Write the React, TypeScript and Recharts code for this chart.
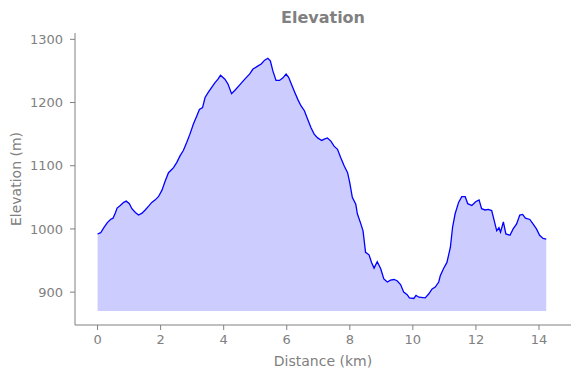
import { ComposedChart, Area, Line, XAxis, YAxis } from 'recharts';

// distance along the track (km) and elevation (m)
const distanceKm = [
  0.0, 0.1, 0.2, 0.31, 0.41, 0.49, 0.57, 0.62, 0.72, 0.83, 0.91, 1.01, 1.09, 1.2, 1.3, 1.41, 1.51, 1.62, 1.72, 1.83,
  1.93, 2.04, 2.14, 2.25, 2.41, 2.51, 2.62, 2.72, 2.83, 2.93, 3.04, 3.15, 3.23, 3.33, 3.41, 3.51, 3.62, 3.72, 3.82, 3.9,
  4.04, 4.14, 4.25, 4.35, 4.51, 4.67, 4.82, 4.93, 5.09, 5.19, 5.3, 5.4, 5.48, 5.56, 5.66, 5.77, 5.88, 5.98, 6.06, 6.14,
  6.24, 6.35, 6.45, 6.56, 6.66, 6.77, 6.87, 6.98, 7.11, 7.19, 7.29, 7.4, 7.5, 7.61, 7.71, 7.82, 7.93, 8.0, 8.08, 8.19,
  8.24, 8.35, 8.42, 8.5, 8.61, 8.69, 8.77, 8.87, 8.98, 9.08, 9.19, 9.29, 9.4, 9.5, 9.61, 9.71, 9.82, 9.89, 10.03, 10.1,
  10.19, 10.39, 10.5, 10.61, 10.71, 10.82, 10.87, 10.97, 11.08, 11.19, 11.26, 11.34, 11.45, 11.55, 11.66, 11.74, 11.87,
  11.99, 12.1, 12.18, 12.29, 12.39, 12.5, 12.58, 12.66, 12.73, 12.78, 12.87, 12.95, 13.08, 13.18, 13.29, 13.39, 13.48,
  13.57, 13.71, 13.81, 13.92, 14.02, 14.13, 14.23,
];

const elevationM = [
  992, 994, 1002, 1010, 1015, 1017, 1026, 1033, 1037, 1042, 1044, 1040, 1032, 1026, 1022, 1025, 1030, 1036, 1042, 1046,
  1051, 1061, 1075, 1089, 1097, 1105, 1116, 1124, 1137, 1150, 1166, 1179, 1189, 1192, 1208, 1216, 1224, 1231, 1237, 1243,
  1237, 1229, 1214, 1219, 1228, 1237, 1245, 1253, 1258, 1261, 1267, 1270, 1266, 1250, 1235, 1235, 1239, 1245, 1240, 1230,
  1218, 1205, 1195, 1187, 1174, 1160, 1150, 1144, 1140, 1142, 1144, 1139, 1131, 1126, 1113, 1100, 1089, 1073, 1050, 1039,
  1024, 1008, 997, 963, 959, 947, 938, 948, 937, 921, 916, 919, 920, 918, 912, 900, 896, 891, 890, 895,
  892, 891, 897, 905, 908, 916, 926, 937, 947, 971, 1003, 1024, 1042, 1051, 1051, 1040, 1037,
  1043, 1046, 1032, 1030, 1031, 1029, 1013, 997, 1002, 995, 1011, 992, 990, 1000, 1008, 1022, 1023,
  1017, 1015, 1008, 1000, 990, 985, 984,
];

const baseElevation = 870;
const xTicks = [0, 2, 4, 6, 8, 10, 12, 14];
const yTicks = [900, 1000, 1100, 1200, 1300];

const data = distanceKm.map((d, i) => ({ d, elev: elevationM[i] }));

const grey = '#808080';

export default function App() {
  return (
    <div style={{ position: 'absolute', left: 0, top: 0, width: 580, height: 378, background: '#fff', fontFamily: 'DejaVu Sans' }}>
      <div
        style={{
          position: 'absolute', left: 75, width: 496, top: 8, textAlign: 'center',
          fontSize: 16, fontWeight: 'bold', color: grey, lineHeight: '20px',
        }}
      >
        Elevation
      </div>
      <ComposedChart width={580} height={378} data={data} margin={{ top: 33, right: 9, bottom: 8, left: 0 }}>
        <XAxis
          dataKey="d"
          type="number"
          domain={[-0.715, 15.015]}
          ticks={xTicks}
          allowDataOverflow
          height={45}
          stroke={grey}
          tickSize={5}
          tickMargin={5}
          tick={{ fill: grey, fontSize: 13 }}
          label={{ value: 'Distance (km)', position: 'insideBottom', offset: 4, fill: grey, fontSize: 14 }}
        />
        <YAxis
          type="number"
          domain={[848, 1310]}
          ticks={yTicks}
          allowDataOverflow
          width={75}
          stroke={grey}
          tickSize={5}
          tickMargin={7}
          tick={{ fill: grey, fontSize: 13 }}
          label={{ value: 'Elevation (m)', angle: -90, position: 'insideLeft', offset: 16, fill: grey, fontSize: 14, textAnchor: 'middle' }}
        />
        <Area
          dataKey="elev"
          type="linear"
          baseValue={baseElevation}
          fill="#0000ff"
          fillOpacity={0.2}
          stroke="none"
          isAnimationActive={false}
        />
        <Line
          dataKey="elev"
          type="linear"
          stroke="#0000ff"
          strokeWidth={1.3}
          dot={false}
          isAnimationActive={false}
        />
      </ComposedChart>
    </div>
  );
}
